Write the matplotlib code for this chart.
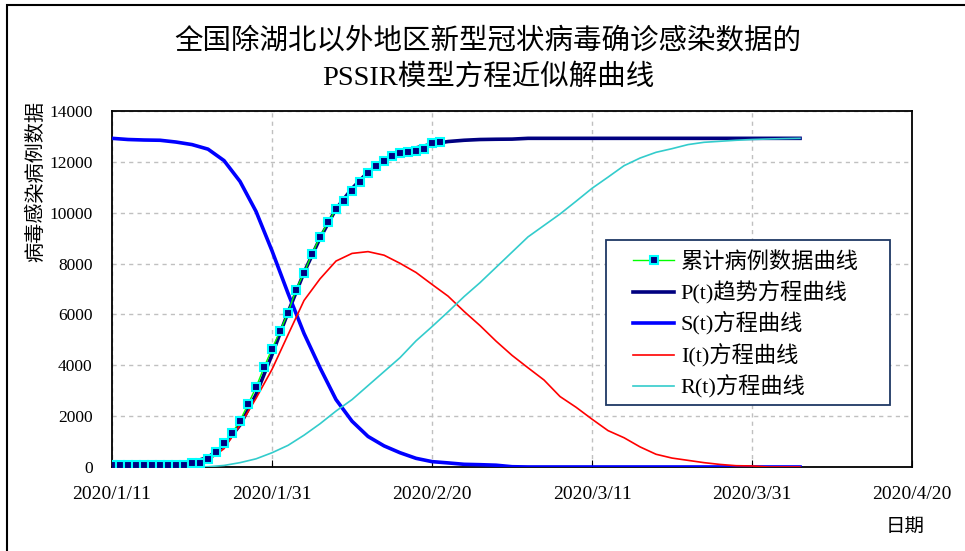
import numpy as np
import pandas as pd
import matplotlib
matplotlib.use('Agg')
import matplotlib.pyplot as plt
from matplotlib.patches import Rectangle

plt.rcParams['font.family'] = ['Liberation Serif', 'Noto Sans CJK SC']
plt.rcParams['axes.unicode_minus'] = False

start = pd.Timestamp('2020-01-11')

# observed cumulative confirmed cases, one value per day from 2020/1/11
confirmed = [70, 70, 70, 70, 70, 70, 70, 70, 70, 80,
             145, 169, 315, 602, 932, 1325, 1821, 2466, 3134, 3921,
             4652, 5348, 6068, 6972, 7641, 8376, 9056, 9623, 10134, 10472,
             10865, 11220, 11549, 11825, 12045, 12242, 12336, 12400, 12439, 12506,
             12730, 12769]

# model curves, sampled every 2 days from 2020/1/11
model_days = [0, 2, 4, 6, 8, 10, 12, 14, 16, 18, 20, 22, 24, 26, 28, 30, 32, 34, 36, 38,
              40, 42, 44, 46, 48, 50, 52, 54, 56, 58, 60, 62, 64, 66, 68, 70, 72, 74, 76, 78,
              80, 82, 84, 86]
p_vals = [0, 0, 20, 40, 80, 180, 380, 850, 1650, 2850, 4420, 6080, 7650, 9000, 10150, 10950,
          11600, 12050, 12350, 12550, 12700, 12800, 12850, 12880, 12890, 12895, 12926, 12926,
          12926, 12926, 12926, 12926, 12926, 12926, 12926, 12926, 12926, 12926, 12926, 12926,
          12926, 12926, 12926, 12926]
s_vals = [12926, 12880, 12860, 12850, 12780, 12680, 12500, 12050, 11230, 10050, 8500, 6830,
          5250, 3900, 2650, 1800, 1200, 830, 560, 340, 210, 160, 105, 90, 70, 10, 0, 0,
          0, 0, 0, 0, 0, 0, 0, 0, 0, 0, 0, 0, 0, 0, 0, 0]
i_vals = [0, 0, 10, 20, 50, 100, 250, 720, 1650, 2700, 3840, 5200, 6550, 7400, 8100, 8400,
          8470, 8330, 8010, 7650, 7180, 6720, 6120, 5560, 4950, 4390, 3900, 3420, 2770, 2350,
          1880, 1430, 1150, 790, 500, 350, 260, 170, 100, 50, 40, 0, 0, 0]
r_vals = [0, 0, 0, 0, 0, 0, 10, 60, 170, 320, 560, 850, 1250, 1700, 2200, 2650, 3200, 3750,
          4300, 4960, 5520, 6100, 6700, 7250, 7850, 8450, 9050, 9500, 9950, 10450, 10960,
          11400, 11850, 12150, 12376, 12520, 12680, 12770, 12810, 12850, 12880, 12900, 12915,
          12926]

tick_labels = ['2020/1/11', '2020/1/31', '2020/2/20', '2020/3/11', '2020/3/31', '2020/4/20']
legend_labels = ['累计病例数据曲线', 'P(t)趋势方程曲线', 'S(t)方程曲线', 'I(t)方程曲线', 'R(t)方程曲线']

data_dates = start + pd.to_timedelta(np.arange(len(confirmed)), unit='D')
model_dates = start + pd.to_timedelta(model_days, unit='D')
tick_dates = pd.to_datetime(tick_labels, format='%Y/%m/%d')

fig = plt.figure(figsize=(9.65, 5.51), dpi=100)
ax = fig.add_axes([0.1161, 0.1525, 0.829, 0.646])

ax.plot(model_dates, p_vals, color='#000080', lw=2.6, zorder=3, label=legend_labels[1])
ax.plot(model_dates, s_vals, color='#0000FF', lw=2.6, zorder=3, label=legend_labels[2])
ax.plot(model_dates, i_vals, color='#FF0000', lw=1.2, zorder=3, label=legend_labels[3])
ax.plot(model_dates, r_vals, color='#33CCCC', lw=1.2, zorder=3, label=legend_labels[4])
ax.plot(data_dates, confirmed, color='#00FF00', lw=1.0, marker='s', markersize=5.8,
        markerfacecolor='#000080', markeredgecolor='#00FFFF', markeredgewidth=1.5,
        zorder=5, label=legend_labels[0])

ax.set_xlim(tick_dates[0], tick_dates[-1])
ax.set_ylim(0, 14000)
ax.set_xticks(tick_dates)
ax.set_xticklabels(tick_labels)
ax.set_yticks(np.arange(0, 14001, 2000))
ax.tick_params(axis='x', direction='in', length=5, pad=14, labelsize=14)
ax.tick_params(axis='y', length=0, pad=14, labelsize=12.5)
ax.grid(True, color='#C0C0C0', linestyle=(0, (3, 3)), lw=1)
for sp in ax.spines.values():
    sp.set_color('black')
    sp.set_linewidth(1.3)

# legend box drawn separately so its padding can match the reference
box = Rectangle((606 / 965, 1 - 405 / 551), 284 / 965, 165 / 551, transform=fig.transFigure,
                facecolor='white', edgecolor='#1F3864', lw=1.3, zorder=6)
fig.patches.append(box)

handles, labels = ax.get_legend_handles_labels()
order = [4, 0, 1, 2, 3]
leg = ax.legend([handles[k] for k in order], [labels[k] for k in order],
                loc='upper left', bbox_to_anchor=(633 / 965, 1 - 252 / 551),
                bbox_transform=fig.transFigure, prop={'size': 16},
                frameon=False, handlelength=1.85, handletextpad=0.3,
                labelspacing=0.36, borderpad=0, borderaxespad=0)
leg.set_zorder(7)
leg.set_figure(fig)
ax.legend_ = None
fig.legends.append(leg)

fig.text(0.506, 1 - 41 / 551, '全国除湖北以外地区新型冠状病毒确诊感染数据的',
         ha='center', va='center', fontsize=20.5)
fig.text(0.506, 1 - 77 / 551, 'PSSIR模型方程近似解曲线',
         ha='center', va='center', fontsize=20.5)
fig.text(37 / 965, 1 - 182 / 551, '病毒感染病例数据', rotation=90,
         ha='center', va='center', fontsize=14.5)
fig.text(905 / 965, 1 - 527 / 551, '日期', ha='center', va='center', fontsize=14)

# outer frame of the chart area
fig.patches.append(Rectangle((7 / 965, -0.1), 1.2, 1.1 - 5 / 551, transform=fig.transFigure,
                             fill=False, edgecolor='black', lw=1.5))

fig.savefig('out.png', dpi=100)
